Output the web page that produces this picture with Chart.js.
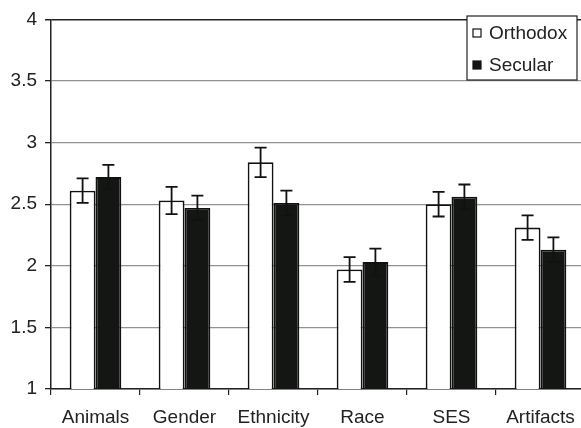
<!doctype html>
<html lang="en">
<head>
    <meta charset="UTF-8">
    <title>Orthodox vs Secular</title>
    <script src="https://cdn.jsdelivr.net/npm/chart.js"></script>
    <style>
        html, body { margin: 0; padding: 0; background: #fff; overflow: hidden; }
        #wrap { width: 590px; height: 428px; }
    </style>
</head>
<body>
<div id="wrap"><canvas id="essChart"></canvas></div>

<script>
    // values
    const categories = ['Animals', 'Gender', 'Ethnicity', 'Race', 'SES', 'Artifacts'];
    const orthodox = [2.61, 2.53, 2.84, 1.97, 2.50, 2.31];
    const secular = [2.72, 2.47, 2.51, 2.03, 2.56, 2.13];
    const orthodoxErr = [0.10, 0.11, 0.12, 0.10, 0.10, 0.10];
    const secularErr = [0.10, 0.10, 0.10, 0.11, 0.10, 0.10];
    const seriesNames = ['Orthodox', 'Secular'];
    const yTicks = [1, 1.5, 2, 2.5, 3, 3.5, 4];

    const FONT = 'Liberation Sans, Arial, sans-serif';

    // error bars, drawn from the y scale
    const errorBars = {
        id: 'errorBars',
        afterDatasetsDraw(chart) {
            const ctx = chart.ctx;
            const y = chart.scales.y;
            ctx.save();
            ctx.strokeStyle = '#111';
            ctx.lineWidth = 1.8;
            chart.data.datasets.forEach((ds, di) => {
                const meta = chart.getDatasetMeta(di);
                meta.data.forEach((bar, i) => {
                    const v = ds.data[i], e = ds.errors[i];
                    const top = y.getPixelForValue(v + e);
                    const bot = y.getPixelForValue(v - e);
                    ctx.beginPath();
                    ctx.moveTo(bar.x, top); ctx.lineTo(bar.x, bot);
                    ctx.moveTo(bar.x - 6, top); ctx.lineTo(bar.x + 6, top);
                    ctx.moveTo(bar.x - 6, bot); ctx.lineTo(bar.x + 6, bot);
                    ctx.stroke();
                });
            });
            ctx.restore();
        }
    };

    // boxed legend in the top right corner
    const boxLegend = {
        id: 'boxLegend',
        afterDraw(chart) {
            const ctx = chart.ctx;
            const x0 = 467, y0 = 16, w = 110, h = 64;
            ctx.save();
            ctx.fillStyle = '#fff';
            ctx.fillRect(x0, y0, w, h);
            ctx.strokeStyle = '#222';
            ctx.lineWidth = 1.2;
            ctx.strokeRect(x0, y0, w, h);
            ctx.font = '19px ' + FONT;
            ctx.textBaseline = 'middle';
            chart.data.datasets.forEach((ds, i) => {
                const cy = y0 + 17 + i * 32;
                ctx.fillStyle = ds.backgroundColor;
                ctx.fillRect(473, cy - 4, 8, 8);
                ctx.strokeStyle = '#111';
                ctx.lineWidth = 1.2;
                ctx.strokeRect(473, cy - 4, 8, 8);
                ctx.fillStyle = '#222';
                ctx.fillText(ds.label, 489, cy + 1);
            });
            ctx.restore();
        }
    };

    const ctx = document.getElementById('essChart').getContext('2d');
    new Chart(ctx, {
        type: 'bar',
        data: {
            labels: categories,
            datasets: [{
                label: seriesNames[0],
                data: orthodox,
                errors: orthodoxErr,
                backgroundColor: '#ffffff',
                borderColor: '#111',
                borderWidth: 1.8
            }, {
                label: seriesNames[1],
                data: secular,
                errors: secularErr,
                backgroundColor: '#141614',
                borderColor: '#111',
                borderWidth: 1.8
            }]
        },
        options: {
            responsive: true,
            maintainAspectRatio: false,
            animation: false,
            layout: { padding: { top: 16, right: 5, left: 0, bottom: 0 } },
            datasets: { bar: { categoryPercentage: 0.58, barPercentage: 1 } },
            plugins: { legend: { display: false }, tooltip: { enabled: false } },
            scales: {
                x: {
                    grid: { drawOnChartArea: false, offset: true, tickLength: 6, color: '#222', lineWidth: 1.2 },
                    border: { color: '#222', width: 1.5 },
                    ticks: { color: '#222', font: { family: FONT, size: 19 }, padding: 11, maxRotation: 0 },
                    afterFit(s) { s.height = 39; }
                },
                y: {
                    min: 1,
                    max: 4,
                    afterBuildTicks(s) { s.ticks = yTicks.map(v => ({ value: v })); },
                    grid: {
                        color: c => c.tick && c.tick.value === 4 ? '#222' : '#929292',
                        lineWidth: c => c.tick && c.tick.value === 4 ? 1.5 : 1.3,
                        tickColor: '#222',
                        tickLength: 6
                    },
                    border: { color: '#222', width: 1.5 },
                    ticks: {
                        color: '#222',
                        font: { family: FONT, size: 19 },
                        padding: 8,
                        callback: v => String(v)
                    },
                    afterFit(s) { s.width = 51; }
                }
            }
        },
        plugins: [errorBars, boxLegend]
    });
</script>
</body>
</html>
